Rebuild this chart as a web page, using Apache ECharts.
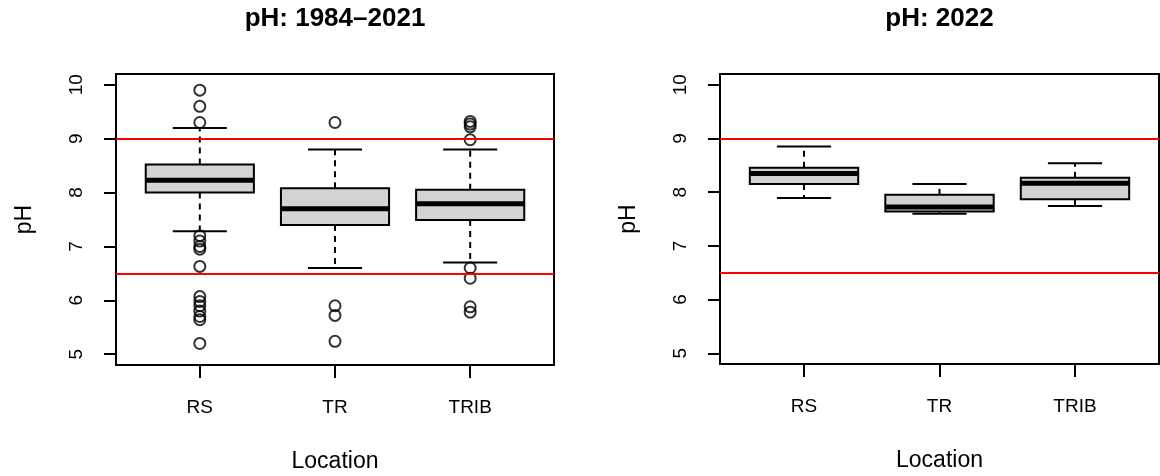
<!DOCTYPE html>
<html>
<head>
<meta charset="utf-8">
<script src="https://cdn.jsdelivr.net/npm/echarts@6/dist/echarts.min.js"></script>
<style>
html,body{margin:0;padding:0;background:#fff;}
#chart{width:1160px;height:476px;}
</style>
</head>
<body>
<div id="chart"></div>
<script>
// ---- data ----
const categories = ['RS', 'TR', 'TRIB'];
const panelTitles = ['pH: 1984\u20132021', 'pH: 2022'];
const yTicks = [5, 6, 7, 8, 9, 10];
const thresholds = [9, 6.5];

// box stats: [lower whisker, Q1, median, Q3, upper whisker]
const boxes1984 = [
  [7.28, 8.00, 8.23, 8.52, 9.20],
  [6.60, 7.40, 7.70, 8.08, 8.80],
  [6.70, 7.49, 7.79, 8.05, 8.80]
];
const outliersRS1984 = [9.9, 9.6, 9.3, 7.2, 7.1, 7.0, 6.95, 6.63, 6.07, 5.98, 5.9, 5.8, 5.7, 5.64, 5.2];
const outliersTR1984 = [9.3, 5.9, 5.72, 5.24];
const outliersTRIB1984 = [9.32, 9.27, 9.22, 8.98, 6.6, 6.41, 5.88, 5.78];

const boxes2022 = [
  [7.89, 8.15, 8.345, 8.455, 8.85],
  [7.60, 7.64, 7.725, 7.95, 8.15],
  [7.74, 7.87, 8.165, 8.27, 8.54]
];

// ---- build ----
const FONT = 'Liberation Sans, Arial, Helvetica, sans-serif';
const grids = [
  {left: 116, top: 74, width: 438, height: 291},
  {left: 720, top: 74, width: 439, height: 290}
];

function boxData(boxes) {
  return boxes.map((b, i) => [i + 1].concat(b));
}
function outlierData(lists) {
  const out = [];
  lists.forEach((l, i) => l.forEach(v => out.push([i + 1, v])));
  return out;
}

function renderBox(params, api) {
  const x = api.value(0);
  const lo = api.value(1), q1 = api.value(2), med = api.value(3), q3 = api.value(4), hi = api.value(5);
  const halfW = api.size([0.8, 0])[0] / 2;
  const capHalf = api.size([0.4, 0])[0] / 2;
  const pLo = api.coord([x, lo]), pQ1 = api.coord([x, q1]), pMed = api.coord([x, med]),
        pQ3 = api.coord([x, q3]), pHi = api.coord([x, hi]);
  const cx = pMed[0];
  const thin = {stroke: '#000', lineWidth: 2, fill: null};
  const dash = {stroke: '#000', lineWidth: 2, lineDash: [6, 5], fill: null};
  return {
    type: 'group',
    children: [
      {type: 'line', shape: {x1: cx, y1: pQ3[1], x2: cx, y2: pHi[1]}, style: dash},
      {type: 'line', shape: {x1: cx, y1: pQ1[1], x2: cx, y2: pLo[1]}, style: dash},
      {type: 'line', shape: {x1: cx - capHalf, y1: pHi[1], x2: cx + capHalf, y2: pHi[1]}, style: thin},
      {type: 'line', shape: {x1: cx - capHalf, y1: pLo[1], x2: cx + capHalf, y2: pLo[1]}, style: thin},
      {type: 'rect', shape: {x: cx - halfW, y: pQ3[1], width: 2 * halfW, height: pQ1[1] - pQ3[1]},
        style: {fill: '#D3D3D3', stroke: '#000', lineWidth: 2}},
      {type: 'line', shape: {x1: cx - halfW, y1: pMed[1], x2: cx + halfW, y2: pMed[1]},
        style: {stroke: '#000', lineWidth: 5}}
    ]
  };
}

function xAxisFor(i) {
  return {
    gridIndex: i, type: 'value', min: 0.38, max: 3.62,
    splitLine: {show: false},
    axisLine: {show: true, onZero: false, lineStyle: {color: '#000', width: 2}},
    axisTick: {show: true, customValues: [1, 2, 3], length: 13, lineStyle: {color: '#000', width: 2}},
    axisLabel: {customValues: [1, 2, 3], formatter: v => categories[Math.round(v) - 1],
      margin: 33, fontSize: 19, color: '#000', fontFamily: FONT},
    name: 'Location', nameLocation: 'middle', nameGap: 85,
    nameTextStyle: {fontSize: 23, color: '#000', fontFamily: FONT}
  };
}
function yAxisFor(i) {
  return {
    gridIndex: i, type: 'value', min: 4.8, max: 10.2,
    splitLine: {show: false},
    axisLine: {show: true, onZero: false, lineStyle: {color: '#000', width: 2}},
    axisTick: {show: true, customValues: yTicks, length: 12, lineStyle: {color: '#000', width: 2}},
    axisLabel: {customValues: yTicks, rotate: 90, margin: 30, fontSize: 19, color: '#000', fontFamily: FONT},
    name: 'pH', nameLocation: 'middle', nameRotate: 90, nameGap: 80,
    nameTextStyle: {fontSize: 23, color: '#000', fontFamily: FONT}
  };
}

const markLine = {
  silent: true, symbol: 'none', label: {show: false},
  lineStyle: {color: '#FF0000', width: 2, type: 'solid'},
  data: thresholds.map(t => ({yAxis: t}))
};

const option = {
  animation: false,
  backgroundColor: '#fff',
  grid: grids.map(g => Object.assign({show: true, borderColor: '#000', borderWidth: 2,
    backgroundColor: 'transparent', containLabel: false, outerBoundsMode: 'none'}, g)),
  xAxis: [xAxisFor(0), xAxisFor(1)],
  yAxis: [yAxisFor(0), yAxisFor(1)],
  graphic: panelTitles.map((t, i) => ({
    type: 'text', x: grids[i].left + grids[i].width / 2, y: 19,
    style: {text: t, fontSize: 26, fontWeight: 'bold', fill: '#000', fontFamily: FONT,
      align: 'center', verticalAlign: 'middle'}
  })),
  series: [
    {type: 'custom', xAxisIndex: 0, yAxisIndex: 0, renderItem: renderBox,
      encode: {x: 0, y: [1, 2, 3, 4, 5]}, data: boxData(boxes1984), z: 2},
    {type: 'scatter', xAxisIndex: 0, yAxisIndex: 0, symbol: 'circle', symbolSize: 11,
      itemStyle: {color: 'rgba(0,0,0,0)', borderColor: '#000', borderWidth: 2},
      data: outlierData([outliersRS1984, outliersTR1984, outliersTRIB1984]),
      markLine: markLine, z: 3},
    {type: 'custom', xAxisIndex: 1, yAxisIndex: 1, renderItem: renderBox,
      encode: {x: 0, y: [1, 2, 3, 4, 5]}, data: boxData(boxes2022), z: 2},
    {type: 'scatter', xAxisIndex: 1, yAxisIndex: 1, data: [], markLine: markLine, z: 3}
  ]
};

const chart = echarts.init(document.getElementById('chart'), null, {renderer: 'canvas'});
chart.setOption(option);
</script>
</body>
</html>
